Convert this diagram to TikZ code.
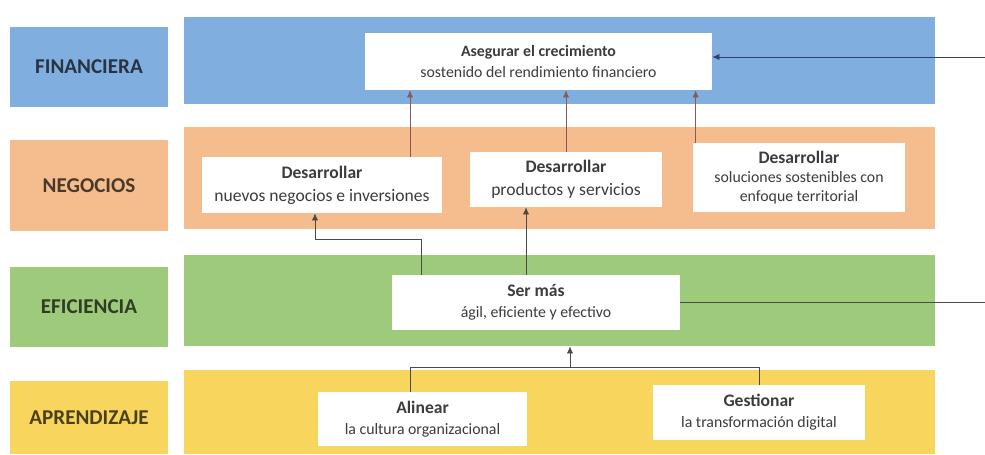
\documentclass[tikz,border=0pt]{standalone}
\usepackage{fontspec}
\setmainfont{Carlito}
\usetikzlibrary{arrows.meta, positioning}
\definecolor{finblue}{HTML}{80AEDF}
\definecolor{negorange}{HTML}{F5BD8E}
\definecolor{efigreen}{HTML}{9DCB7B}
\definecolor{apryellow}{HTML}{F8D65E}
\definecolor{linkbrown}{HTML}{8A5A55}
\definecolor{linkgray}{HTML}{4A4A4A}
\definecolor{boxtext}{HTML}{3C3C3C}

\begin{document}
\begin{tikzpicture}[
    lbl/.style={minimum width=3.16cm, inner sep=0pt, font=\fontsize{12}{14}\selectfont\bfseries},
    band/.style={minimum width=15.02cm, inner sep=0pt},
    goal/.style={fill=white, align=center, text=boxtext, inner sep=0pt, font=\fontsize{9}{12}\selectfont},
    biggoal/.style={goal, font=\fontsize{10}{13}\selectfont},
    arr/.style={-{Latex[length=4pt, width=3.5pt]}, thin},
]
\useasboundingbox (0,0) rectangle (19.7,9.08);

% Left: perspective labels
\node[lbl, fill=finblue, minimum height=1.6cm, text=finblue!30!black] (finlbl) at (1.78, 7.74) {FINANCIERA};
\node[lbl, fill=negorange, minimum height=1.82cm, text=negorange!30!black] (neglbl) at (1.78, 5.37) {NEGOCIOS};
\node[lbl, fill=efigreen, minimum height=1.6cm, text=efigreen!30!black] (efilbl) at (1.78, 2.94) {EFICIENCIA};
\node[lbl, fill=apryellow, minimum height=1.46cm, text=apryellow!30!black] (aprlbl) at (1.78, 0.73) {APRENDIZAJE};

% Right: bands
\node[band, fill=finblue, minimum height=1.74cm] (finband) at (11.19, 7.87) {};
\node[band, fill=negorange, minimum height=2.04cm] (negband) at (11.19, 5.52) {};
\node[band, fill=efigreen, minimum height=1.82cm] (efiband) at (11.19, 3.07) {};
\node[band, fill=apryellow, minimum height=1.68cm] (aprband) at (11.19, 0.84) {};

% Objectives
\node[goal, minimum width=6.94cm, minimum height=1.14cm] (Aseg) at (10.77, 7.85) {{\bfseries Asegurar el crecimiento}\\ sostenido del rendimiento financiero};
\node[biggoal, minimum width=4.8cm, minimum height=1.12cm] (Des1) at (6.44, 5.38) {{\bfseries Desarrollar}\\ nuevos negocios e inversiones};
\node[biggoal, minimum width=3.84cm, minimum height=1.1cm] (Des2) at (11.32, 5.49) {{\bfseries Desarrollar}\\ productos y servicios};
\node[goal, minimum width=4.24cm, minimum height=1.38cm, font=\fontsize{9}{11}\selectfont] (Des3) at (15.98, 5.53) {{\bfseries\fontsize{10}{11}\selectfont Desarrollar}\\ soluciones sostenibles con\\ enfoque territorial};
\node[goal, minimum width=5.76cm, minimum height=1.1cm] (Ser) at (10.72, 3.03) {{\bfseries\fontsize{10}{12}\selectfont Ser más}\\ ágil, eficiente y efectivo};
\node[goal, minimum width=4.18cm, minimum height=1.08cm] (Alin) at (8.45, 0.70) {{\bfseries\fontsize{10}{12}\selectfont Alinear}\\ la cultura organizacional};
\node[goal, minimum width=4.24cm, minimum height=1.1cm] (Gest) at (15.18, 0.83) {{\bfseries\fontsize{10}{12}\selectfont Gestionar}\\ la transformación digital};

% Negocios -> Financiera
\draw[arr, linkbrown] ([xshift=1.76cm]Des1.north) -- ([xshift=1.76cm]Des1.north |- Aseg.south);
\draw[arr, linkbrown] (Des2.north) -- (Des2.north |- Aseg.south);
\draw[arr, linkbrown] ([xshift=0.06cm]Des3.north west) -- ([xshift=0.06cm]Des3.north west |- Aseg.south);

% Eficiencia -> Negocios
\draw[arr, linkgray] ([xshift=0.6cm]Ser.north west) -- ++(0, 0.7) -| ([xshift=-0.14cm]Des1.south);
\draw[arr, linkgray] ([xshift=-0.2cm]Ser.north) -- ([xshift=-0.2cm]Ser.north |- Des2.south);

% Aprendizaje -> Eficiencia
\coordinate (aprjoin) at (11.4, 1.72);
\draw[linkgray] ([xshift=-0.25cm]Alin.north) -- ++(0, 0.48) -| (Gest.north);
\draw[arr, linkgray] (aprjoin) -- (aprjoin |- efiband.south);

% Feedback to the right edge
\coordinate (serout) at (19.7, 3.03);
\coordinate (asegin) at (19.7, 7.94);
\draw[linkgray] (Ser.east) -- (serout);
\draw[arr, linkgray!80!blue] (asegin) -- (asegin -| Aseg.east);

\end{tikzpicture}
\end{document}
